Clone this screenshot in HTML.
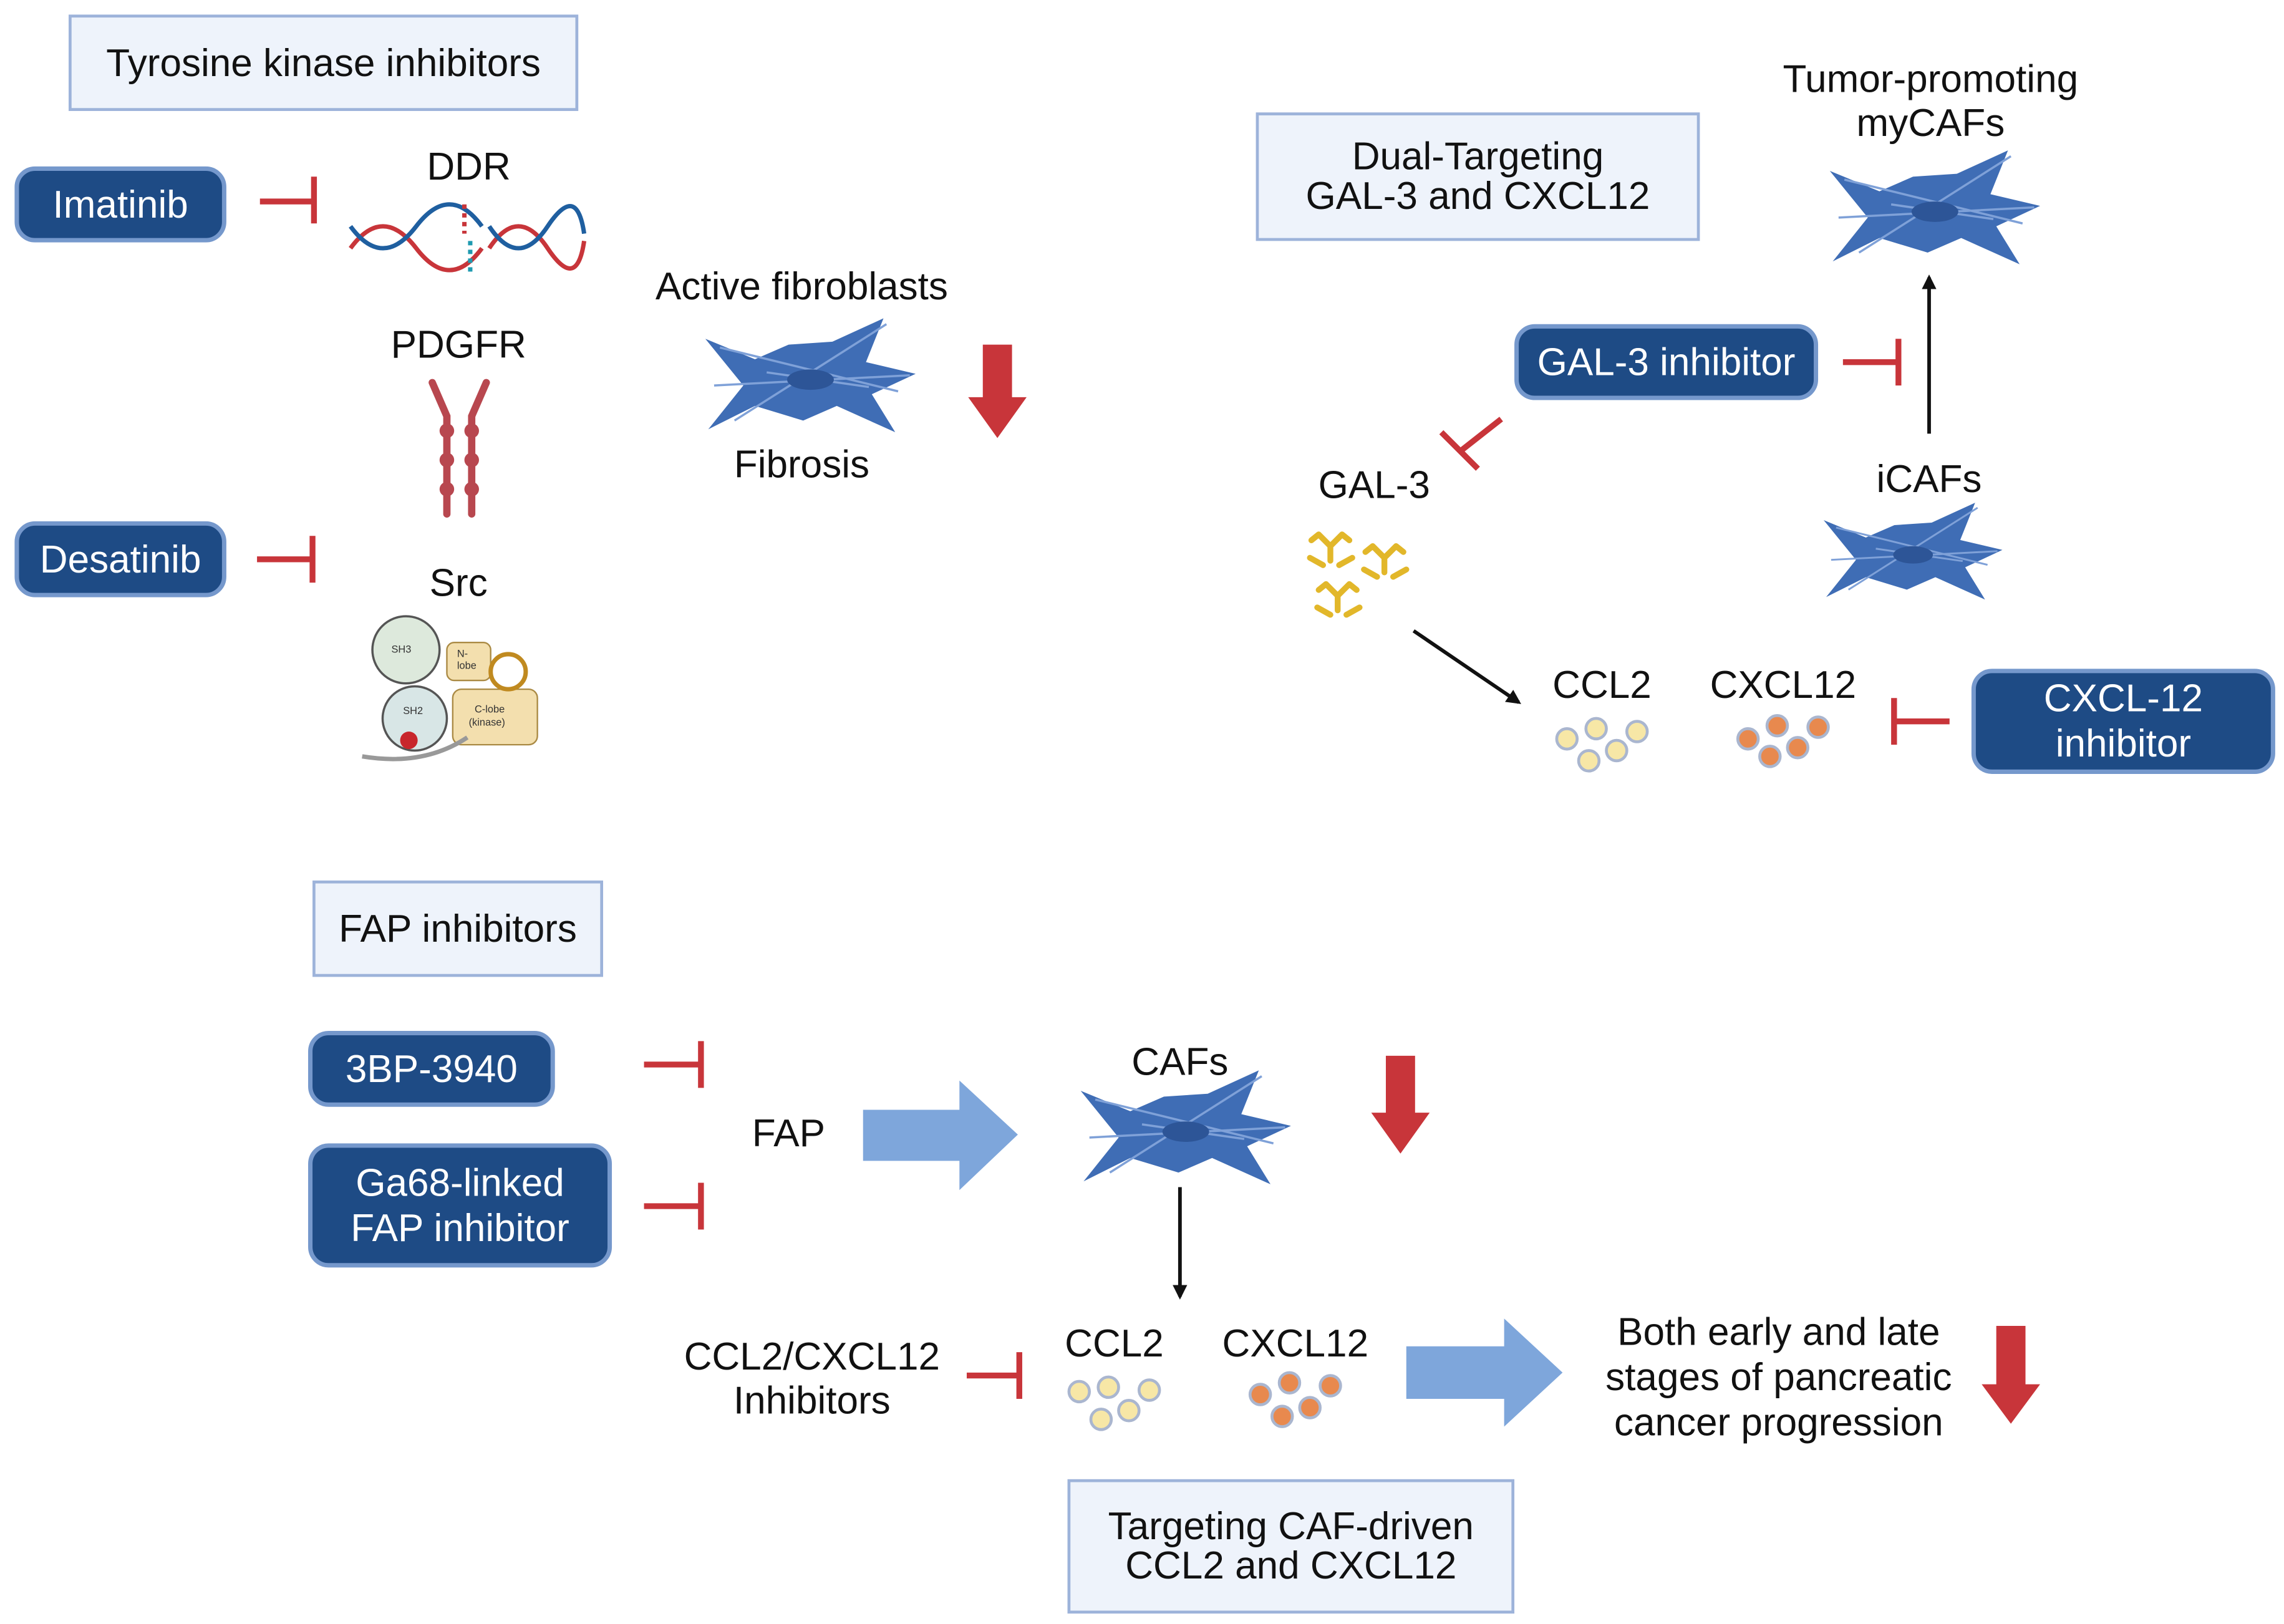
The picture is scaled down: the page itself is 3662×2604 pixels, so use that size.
<!DOCTYPE html>
<html><head><meta charset="utf-8"><style>
html,body{margin:0;padding:0;background:#fff;}
body{width:3662px;height:2604px;overflow:hidden;position:relative;}
#c{position:absolute;left:0;top:0;width:1564px;height:1112px;transform:scale(2.3414);transform-origin:0 0;font-family:"Liberation Sans",Arial,sans-serif;color:#111;}
.box{position:absolute;background:#eef3fb;border:2.5px solid #9db3da;box-sizing:border-box;display:flex;align-items:center;justify-content:center;text-align:center;font-size:26.5px;line-height:27px;}
.pill{position:absolute;background:#1e4b85;border:3px solid #7598cc;border-radius:14px;box-sizing:border-box;color:#fff;display:flex;align-items:center;justify-content:center;text-align:center;font-size:26.5px;line-height:31px;}
.t{position:absolute;font-size:26.5px;line-height:30px;text-align:center;white-space:nowrap;transform:translateX(-50%);}
svg{position:absolute;left:0;top:0;}
</style></head><body><div id="c">
<svg width="1564" height="1112" viewBox="0 0 1564 1112">
<defs>
<g id="fb">
<path d="M-72,-28 L-38,-14 L-15,-24 L15,-26 L50,-42 L38,-12 L72,-4 L42,10 L58,36 L18,18 L-5,28 L-38,18 L-70,34 L-46,4 Z" fill="#3f6db5"/>
<path d="M-62,-22 L60,8 M-52,28 L52,-38 M-30,-5 L40,5 M-66,4 L68,-3" stroke="#7fa1d8" stroke-width="1.5" fill="none"/>
<ellipse cx="0" cy="0" rx="16" ry="7" fill="#2d5597"/>
</g>
<marker id="ah" markerWidth="10" markerHeight="10" refX="8" refY="5" orient="auto" markerUnits="userSpaceOnUse"><path d="M0,0 L10,5 L0,10 Z" fill="#111"/></marker>
</defs>
<g stroke="#c8353a" stroke-width="4" fill="none">
<path d="M178,138 H215 M215,121 V153"/>
<path d="M176,383 H214 M214,367 V399"/>
<path d="M1262,248 H1300 M1300,232 V264"/>
<path d="M1028,287 L1000,309 M987,296 L1012,321"/>
<path d="M1335,494 H1297 M1297,478 V510"/>
<path d="M441,729 H480 M480,713 V745"/>
<path d="M441,826 H480 M480,810 V842"/>
<path d="M662,942 H698 M698,926 V958"/>
</g>
<g fill="#c8353a">
<path d="M673,236 H693 V272 H703 L683,300 L663,272 H673 Z"/>
<path d="M949,723 H969 V762 H979 L959,790 L939,762 H949 Z"/>
<path d="M1367,908 H1387 V948 H1397 L1377,975 L1357,948 H1367 Z"/>
</g>
<g fill="#7ea6db">
<path d="M591,760 H657 V740 L697,777 L657,815 V795 H591 Z"/>
<path d="M963,922 H1030 V903 L1070,940 L1030,977 V958 H963 Z"/>
</g>
<g stroke="#111" stroke-width="2.5" marker-end="url(#ah)">
<line x1="1321" y1="297" x2="1321" y2="190"/>
<line x1="968" y1="432" x2="1040" y2="481"/>
<line x1="808" y1="813" x2="808" y2="888"/>
</g>
<use href="#fb" transform="translate(555,260)"/>
<use href="#fb" transform="translate(1325,145)"/>
<use href="#fb" transform="translate(1310,380) scale(0.85)"/>
<use href="#fb" transform="translate(812,775)"/>
<!-- DNA -->
<g fill="none" stroke-width="3">
<path d="M240,170 Q262,140 285,170 T330,170" stroke="#c8353a"/>
<path d="M240,155 Q262,185 285,155 T330,155" stroke="#1f5fa0"/>
<path d="M335,170 Q355,140 375,170 T400,165" stroke="#c8353a"/>
<path d="M335,155 Q355,185 375,155 T400,160" stroke="#1f5fa0"/>
<path d="M318,140 V160" stroke="#c8353a" stroke-dasharray="3 3"/>
<path d="M322,165 V188" stroke="#1f9ab0" stroke-dasharray="3 3"/>
</g>
<!-- PDGFR -->
<g stroke="#b8474f" stroke-width="5" fill="none" stroke-linecap="round">
<path d="M296,262 L306,285 V352 M333,262 L323,285 V352"/>
</g>
<g fill="#b8474f"><circle cx="306" cy="295" r="5"/><circle cx="323" cy="295" r="5"/><circle cx="306" cy="315" r="5"/><circle cx="323" cy="315" r="5"/><circle cx="306" cy="335" r="5"/><circle cx="323" cy="335" r="5"/></g>
<!-- Src -->
<circle cx="278" cy="445" r="23" fill="#dde9dc" stroke="#555" stroke-width="1.5"/>
<circle cx="284" cy="492" r="22" fill="#d8e6e6" stroke="#555" stroke-width="1.5"/>
<rect x="306" y="440" width="30" height="26" rx="5" fill="#f3dfae" stroke="#aa8a44"/>
<rect x="310" y="472" width="58" height="38" rx="6" fill="#f3dfae" stroke="#aa8a44"/>
<circle cx="348" cy="460" r="12" fill="none" stroke="#c08a20" stroke-width="3"/>
<path d="M248,518 Q290,525 320,505" stroke="#999" stroke-width="3" fill="none"/>
<circle cx="280" cy="507" r="6" fill="#c8262c"/>
<g font-size="7" font-family="Liberation Sans" fill="#333"><text x="268" y="447">SH3</text><text x="276" y="489">SH2</text><text x="313" y="450">N-</text><text x="313" y="458">lobe</text><text x="325" y="488">C-lobe</text><text x="321" y="497">(kinase)</text></g>
<!-- GAL3 -->
<g stroke="#e2b72a" stroke-width="4" stroke-linecap="round" fill="none">
<path d="M903,366 l8,8 l8,-8 M911,374 v10 M897,382 l9,5 M926,382 l-9,5 M898,370 l5,-4 M924,370 l-5,-4"/>
<path d="M940,374 l8,8 l8,-8 M948,382 v10 M934,390 l9,5 M963,390 l-9,5 M935,378 l5,-4 M961,378 l-5,-4"/>
<path d="M908,400 l8,8 l8,-8 M916,408 v10 M902,416 l9,5 M931,416 l-9,5 M903,404 l5,-4 M929,404 l-5,-4"/>
</g>
<!-- chemokines -->
<g fill="#f7e7a6" stroke="#aab6cf" stroke-width="2">
<circle cx="1073" cy="506" r="7"/><circle cx="1093" cy="499" r="7"/><circle cx="1121" cy="501" r="7"/><circle cx="1088" cy="521" r="7"/><circle cx="1107" cy="514" r="7"/>
<circle cx="739" cy="953" r="7"/><circle cx="759" cy="950" r="7"/><circle cx="787" cy="952" r="7"/><circle cx="754" cy="972" r="7"/><circle cx="773" cy="966" r="7"/>
</g>
<g fill="#e8894e" stroke="#aab6cf" stroke-width="2">
<circle cx="1197" cy="506" r="7"/><circle cx="1217" cy="497" r="7"/><circle cx="1245" cy="498" r="7"/><circle cx="1212" cy="518" r="7"/><circle cx="1231" cy="512" r="7"/>
<circle cx="863" cy="955" r="7"/><circle cx="883" cy="947" r="7"/><circle cx="911" cy="949" r="7"/><circle cx="878" cy="970" r="7"/><circle cx="897" cy="964" r="7"/>
</g>
</svg>
<div class="box" style="left:47px;top:10px;width:349px;height:66px;">Tyrosine kinase inhibitors</div>
<div class="box" style="left:860px;top:77px;width:304px;height:88px;">Dual-Targeting<br>GAL-3 and CXCL12</div>
<div class="box" style="left:214px;top:603px;width:199px;height:66px;">FAP inhibitors</div>
<div class="box" style="left:731px;top:1013px;width:306px;height:92px;">Targeting CAF-driven<br>CCL2 and CXCL12</div>
<div class="pill" style="left:10px;top:114px;width:145px;height:52px;">Imatinib</div>
<div class="pill" style="left:10px;top:357px;width:145px;height:52px;">Desatinib</div>
<div class="pill" style="left:1037px;top:222px;width:208px;height:52px;">GAL-3 inhibitor</div>
<div class="pill" style="left:1350px;top:458px;width:208px;height:72px;">CXCL-12<br>inhibitor</div>
<div class="pill" style="left:211px;top:706px;width:169px;height:52px;">3BP-3940</div>
<div class="pill" style="left:211px;top:783px;width:208px;height:85px;">Ga68-linked<br>FAP inhibitor</div>
<div class="t" style="left:321px;top:99px;">DDR</div>
<div class="t" style="left:314px;top:221px;">PDGFR</div>
<div class="t" style="left:314px;top:384px;">Src</div>
<div class="t" style="left:549px;top:181px;">Active fibroblasts</div>
<div class="t" style="left:549px;top:303px;">Fibrosis</div>
<div class="t" style="left:1322px;top:39px;">Tumor-promoting<br>myCAFs</div>
<div class="t" style="left:1321px;top:313px;">iCAFs</div>
<div class="t" style="left:941px;top:317px;">GAL-3</div>
<div class="t" style="left:1097px;top:454px;">CCL2</div>
<div class="t" style="left:1221px;top:454px;">CXCL12</div>
<div class="t" style="left:540px;top:761px;">FAP</div>
<div class="t" style="left:808px;top:712px;">CAFs</div>
<div class="t" style="left:556px;top:914px;">CCL2/CXCL12<br>Inhibitors</div>
<div class="t" style="left:763px;top:905px;">CCL2</div>
<div class="t" style="left:887px;top:905px;">CXCL12</div>
<div class="t" style="left:1218px;top:897px;line-height:31px;">Both early and late<br>stages of pancreatic<br>cancer progression</div>
</div></body></html>
